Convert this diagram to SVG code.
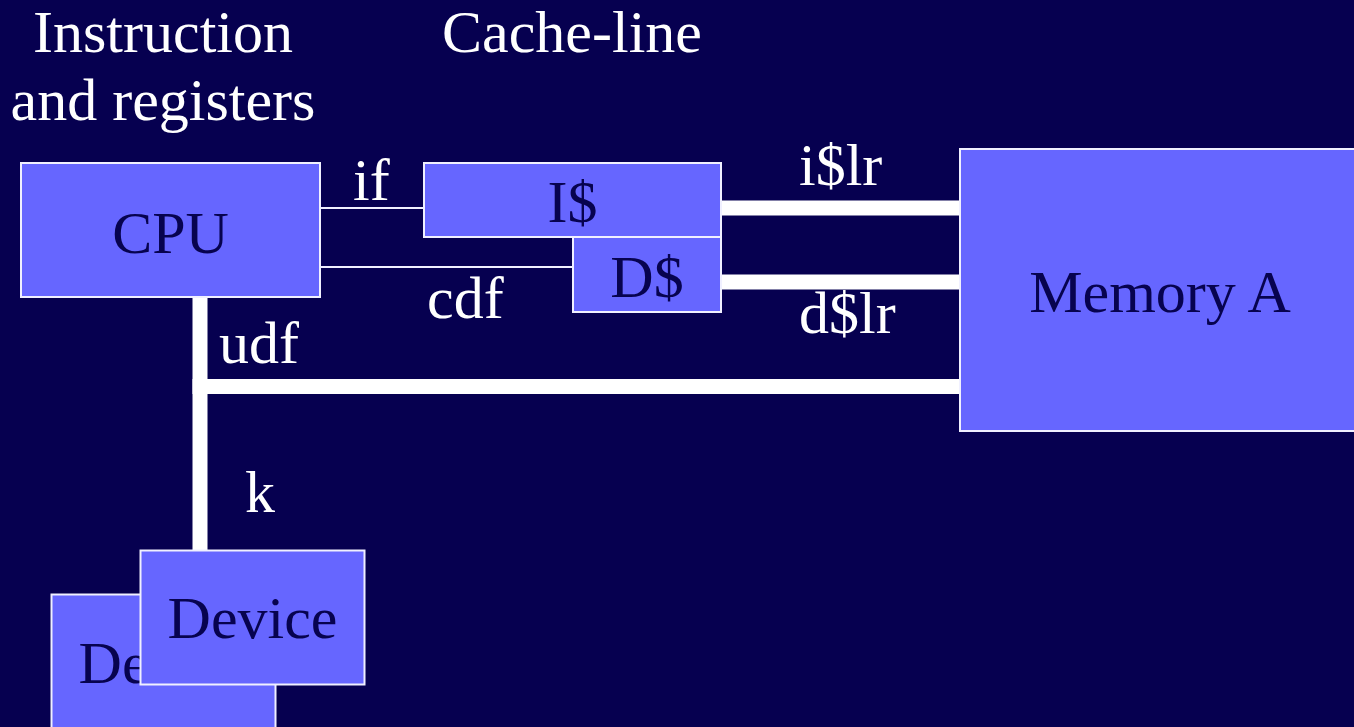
<svg xmlns="http://www.w3.org/2000/svg" width="1354" height="727" viewBox="0 0 1354 727">
  <style>
    .box { fill: #6666FF; stroke: #F0F0FF; stroke-width: 2; }
    .name { font-family: "Liberation Serif", "Times New Roman", serif; font-size: 60px; fill: #07034F; text-anchor: middle; }
    .label { font-family: "Liberation Serif", "Times New Roman", serif; font-size: 60px; fill: #FFFFFF; }
    .thin { stroke: #F0F0FF; stroke-width: 2; fill: none; }
    .bus { stroke: #FFFFFF; stroke-width: 15; fill: none; }
  </style>
  <rect x="0" y="0" width="1354" height="727" fill="#060050"/>

  <!-- headings -->
  <text class="label" x="163" y="52" text-anchor="middle">Instruction</text>
  <text class="label" x="163" y="120" text-anchor="middle">and registers</text>
  <text class="label" x="572" y="52" text-anchor="middle">Cache-line</text>

  <!-- connectors -->
  <g id="connectors">
    <line class="thin" x1="320" y1="208" x2="424" y2="208"/>
    <line class="thin" x1="320" y1="267" x2="573" y2="267"/>
    <line class="bus" x1="721" y1="208" x2="960" y2="208"/>
    <line class="bus" x1="721" y1="282" x2="960" y2="282"/>
    <line class="bus" x1="200" y1="297" x2="200" y2="551"/>
    <line class="bus" x1="192.5" y1="386.5" x2="960" y2="386.5"/>
    <text class="label" x="353" y="200">if</text>
    <text class="label" x="799" y="185">i$lr</text>
    <text class="label" x="427" y="318">cdf</text>
    <text class="label" x="799" y="333">d$lr</text>
    <text class="label" x="219" y="363">udf</text>
    <text class="label" x="245" y="512">k</text>
  </g>

  <g id="cpu">
    <rect class="box" x="21" y="163" width="299" height="134"/>
    <text class="name" x="170.5" y="253">CPU</text>
  </g>

  <g id="icache">
    <rect class="box" x="424" y="163" width="297" height="74"/>
    <text class="name" x="572.5" y="222">I$</text>
  </g>

  <g id="dcache">
    <rect class="box" x="573" y="237" width="148" height="75"/>
    <text class="name" x="647" y="297">D$</text>
  </g>

  <g id="memory-a">
    <rect class="box" x="960" y="149" width="400" height="282"/>
    <text class="name" x="1160" y="312">Memory A</text>
  </g>

  <g id="device-back">
    <rect class="box" x="51.5" y="594.5" width="224" height="140"/>
    <text class="name" x="163.5" y="683">Device</text>
  </g>

  <g id="device-front">
    <rect class="box" x="140.5" y="550.5" width="224" height="134"/>
    <text class="name" x="252.5" y="638">Device</text>
  </g>
</svg>
